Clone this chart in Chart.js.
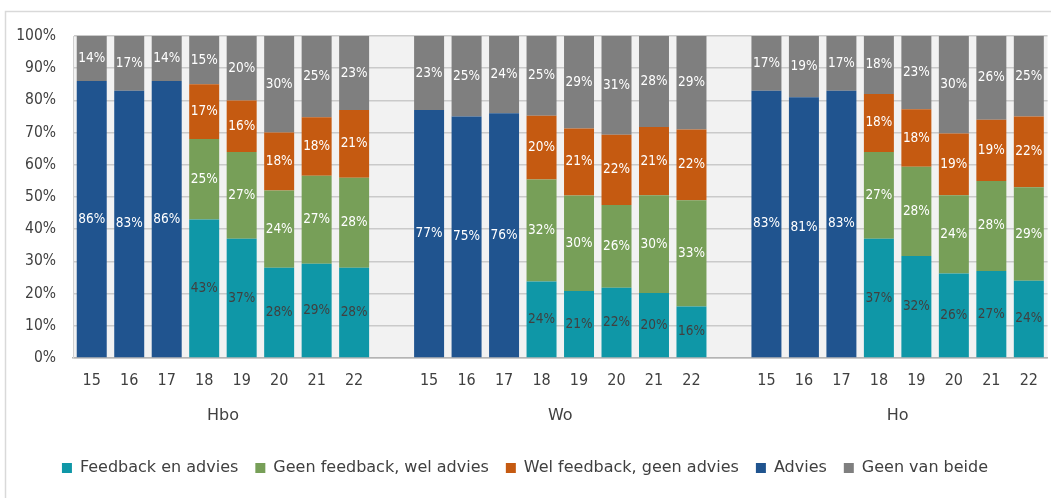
<!DOCTYPE html>
<html>
<head>
<meta charset="utf-8">
<script src="https://cdn.jsdelivr.net/npm/chart.js@4/dist/chart.umd.min.js"></script>
<style>
  body { margin: 0; background: #fff; }
</style>
</head>
<body>
<canvas id="grafiek" width="1051" height="498"></canvas>
<script>
// jaren per groep, met een lege kolom tussen de groepen
const jaren = ['15', '16', '17', '18', '19', '20', '21', '22'];
const groepen = ['Hbo', 'Wo', 'Ho'];

// percentages per reeks: Hbo | leeg | Wo | leeg | Ho
const feedbackEnAdvies = [null, null, null, 43, 37, 28, 29, 28, null,
                          null, null, null, 24, 21, 22, 20, 16, null,
                          null, null, null, 37, 32, 26, 27, 24];
const geenFeedbackWelAdvies = [null, null, null, 25, 27, 24, 27, 28, null,
                               null, null, null, 32, 30, 26, 30, 33, null,
                               null, null, null, 27, 28, 24, 28, 29];
const welFeedbackGeenAdvies = [null, null, null, 17, 16, 18, 18, 21, null,
                               null, null, null, 20, 21, 22, 21, 22, null,
                               null, null, null, 18, 18, 19, 19, 22];
const advies = [86, 83, 86, null, null, null, null, null, null,
                77, 75, 76, null, null, null, null, null, null,
                83, 81, 83, null, null, null, null, null];
const geenVanBeide = [14, 17, 14, 15, 20, 30, 25, 23, null,
                      23, 25, 24, 25, 29, 31, 28, 29, null,
                      17, 19, 17, 18, 23, 30, 26, 25];

const labels = groepen.flatMap((g, i) => i ? ['', ...jaren] : jaren);

const reeksen = [
  { naam: 'Feedback en advies', data: feedbackEnAdvies, kleur: '#0f97a7', tekst: '#404040' },
  { naam: 'Geen feedback, wel advies', data: geenFeedbackWelAdvies, kleur: '#779f58', tekst: '#ffffff' },
  { naam: 'Wel feedback, geen advies', data: welFeedbackGeenAdvies, kleur: '#c55a11', tekst: '#ffffff' },
  { naam: 'Advies', data: advies, kleur: '#20548f', tekst: '#ffffff' },
  { naam: 'Geen van beide', data: geenVanBeide, kleur: '#7f7f7f', tekst: '#ffffff' }
];

// 100% gestapeld: elke kolom schalen naar zijn eigen totaal
const totalen = labels.map((_, j) => reeksen.reduce((s, r) => s + (r.data[j] || 0), 0));

const smal = '"DejaVu Sans Condensed", "DejaVu Sans", sans-serif';
const breed = '"DejaVu Sans", sans-serif';
Chart.defaults.font.family = smal;
Chart.defaults.font.size = 15;
Chart.defaults.color = '#404040';

// grijze achtergrond van het plotvlak en de rand om de figuur
const achtergrond = {
  id: 'achtergrond',
  beforeDraw(chart) {
    const { ctx, chartArea: a } = chart;
    ctx.save();
    ctx.strokeStyle = '#d9d9d9';
    ctx.lineWidth = 1.5;
    ctx.strokeRect(5.5, 11.5, chart.width + 20, chart.height + 20);
    ctx.fillStyle = '#f2f2f2';
    ctx.fillRect(a.left, a.top, a.right - a.left, a.bottom - a.top);
    ctx.restore();
  }
};

// percentages midden in elk segment
const waarden = {
  id: 'waarden',
  afterDatasetsDraw(chart) {
    const ctx = chart.ctx;
    ctx.save();
    ctx.font = '13.5px ' + smal;
    ctx.textAlign = 'center';
    ctx.textBaseline = 'middle';
    chart.data.datasets.forEach((ds, i) => {
      chart.getDatasetMeta(i).data.forEach((bar, j) => {
        const v = ds.ruw[j];
        if (v == null) return;
        ctx.fillStyle = ds.tekstKleur;
        ctx.fillText(v + '%', bar.x, (bar.y + bar.base) / 2);
      });
    });
    ctx.restore();
  }
};

// groepsnamen onder de jaartallen
const groepNamen = {
  id: 'groepNamen',
  afterDraw(chart) {
    const { ctx, scales: { x } } = chart;
    ctx.save();
    ctx.font = '16px ' + breed;
    ctx.fillStyle = '#404040';
    ctx.textAlign = 'center';
    ctx.textBaseline = 'middle';
    groepen.forEach((g, i) => {
      const midden = i * (jaren.length + 1) + (jaren.length - 1) / 2;
      ctx.fillText(g, x.getPixelForValue(midden), x.top + 58);
    });
    ctx.restore();
  }
};

new Chart(document.getElementById('grafiek'), {
  type: 'bar',
  data: {
    labels: labels,
    datasets: reeksen.map(r => ({
      label: r.naam,
      data: r.data.map((v, j) => v == null ? null : v / totalen[j] * 100),
      ruw: r.data,
      tekstKleur: r.tekst,
      backgroundColor: r.kleur,
      barPercentage: 0.8,
      categoryPercentage: 1
    }))
  },
  options: {
    responsive: false,
    animation: false,
    devicePixelRatio: 1,
    layout: { padding: { left: 0, right: 1, top: 36, bottom: 12 } },
    plugins: {
      tooltip: { enabled: false },
      legend: {
        position: 'bottom',
        labels: { boxWidth: 10, boxHeight: 10, padding: 17, color: '#404040', font: { family: breed, size: 16 } }
      }
    },
    scales: {
      x: {
        stacked: true,
        grid: { display: false, drawTicks: false },
        border: { color: '#b4b4b4', width: 1.5 },
        ticks: { padding: 13, maxRotation: 0, autoSkip: false, color: '#404040', font: { size: 16 } },
        afterFit(scale) { scale.height = 85; }
      },
      y: {
        stacked: true,
        min: 0,
        max: 100,
        grid: { color: '#cacaca', lineWidth: 1.5, drawTicks: false },
        border: { color: '#d0d0d0', width: 1 },
        ticks: { stepSize: 10, padding: 17, color: '#404040', font: { size: 15.5 }, callback: v => v + '%' },
        afterFit(scale) { scale.width = 73; }
      }
    }
  },
  plugins: [achtergrond, waarden, groepNamen]
});
</script>
</body>
</html>
